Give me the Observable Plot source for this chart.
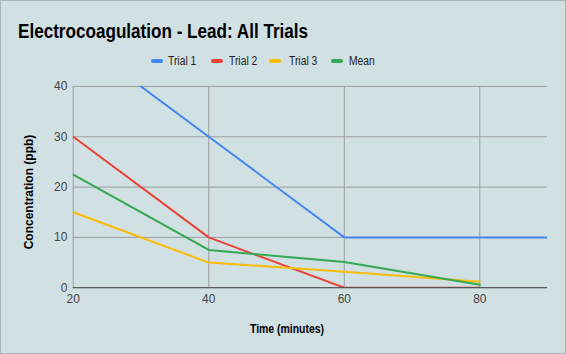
<!DOCTYPE html>
<html>
<head>
<meta charset="utf-8">
<script src="https://cdn.jsdelivr.net/npm/d3@7"></script>
<script src="https://cdn.jsdelivr.net/npm/@observablehq/plot@0.6"></script>
<style>
  html, body { margin: 0; padding: 0; }
  #wrap { position: relative; width: 566px; height: 354px; background: #d0e0e3; box-sizing: border-box; border: 1px solid #a9b6b8; overflow: hidden; font-family: "Liberation Sans", Arial, sans-serif; }
  #title { position: absolute; left: 17px; top: 19px; font-size: 20px; font-weight: bold; color: #000; white-space: nowrap; transform: scaleX(0.855); transform-origin: left center; }
  #legend { position: absolute; top: 52px; left: 0; width: 566px; height: 16px; font-size: 12px; color: #222; }
  .sw { position: absolute; top: 6px; width: 12px; height: 4px; border-radius: 2px; }
  .lt { position: absolute; top: 1px; white-space: nowrap; transform: scaleX(0.86); transform-origin: left center; }
  #chart { position: absolute; left: 0; top: 72px; }
  #ylab { position: absolute; left: 28px; top: 191px; transform: translate(-50%,-50%) rotate(-90deg); font-size: 12px; font-weight: bold; white-space: nowrap; color: #000; }
  #xlab { position: absolute; left: 286px; top: 328px; transform: translate(-50%,-50%) scaleX(0.87); font-size: 12px; font-weight: bold; white-space: nowrap; color: #000; }
</style>
</head>
<body>
<div id="wrap">
  <div id="title">Electrocoagulation - Lead: All Trials</div>
  <div id="legend"></div>
  <div id="chart"></div>
  <div id="ylab">Concentration (ppb)</div>
  <div id="xlab">Time (minutes)</div>
</div>
<script>
const seriesNames = ["Trial 1", "Trial 2", "Trial 3", "Mean"];
const seriesColors = ["#4285f4", "#ea4335", "#fbbc04", "#34a853"];
const times1 = [20, 40, 60, 80, 90];
const trial1 = [50, 30, 10, 10, 10];
const times = [20, 40, 60, 80];
const trial2 = [30, 10, 0, 0];
const trial3 = [15, 5, 3.2, 1.2];
const mean = [22.5, 7.5, 5.1, 0.6];
const xTicks = [20, 40, 60, 80];
const yTicks = [0, 10, 20, 30, 40];

const data = [];
times1.forEach((t, i) => data.push({series: "Trial 1", time: t, value: trial1[i]}));
times.forEach((t, i) => data.push({series: "Trial 2", time: t, value: trial2[i]}));
times.forEach((t, i) => data.push({series: "Trial 3", time: t, value: trial3[i]}));
times.forEach((t, i) => data.push({series: "Mean", time: t, value: mean[i]}));

// legend
const legendSwX = [150, 210, 268, 330];
const legendTxX = [167, 228, 288, 348];
const legend = document.getElementById("legend");
seriesNames.forEach((n, i) => {
  const sw = document.createElement("div");
  sw.className = "sw";
  sw.style.left = legendSwX[i] + "px";
  sw.style.background = seriesColors[i];
  legend.appendChild(sw);
  const tx = document.createElement("div");
  tx.className = "lt";
  tx.style.left = legendTxX[i] + "px";
  tx.textContent = n;
  legend.appendChild(tx);
});

const plot = Plot.plot({
  width: 566,
  height: 282,
  marginLeft: 72,
  marginRight: 18,
  marginTop: 13,
  marginBottom: 67,
  style: { background: "transparent", fontFamily: "Liberation Sans, Arial, sans-serif", fontSize: "12px", color: "#444" },
  x: { domain: [20, 90], label: null },
  y: { domain: [0, 40], label: null },
  color: { domain: seriesNames, range: seriesColors },
  marks: [
    Plot.ruleX(xTicks, { stroke: "#9e9e9e", strokeWidth: 1 }),
    Plot.ruleY(yTicks.filter(d => d > 0), { stroke: "#9e9e9e", strokeWidth: 1 }),
    Plot.axisX({ ticks: xTicks, tickSize: 0, tickPadding: 7, fill: "#444", label: null }),
    Plot.axisY({ ticks: yTicks, tickSize: 0, tickPadding: 6, fill: "#444", label: null }),
    Plot.line(data, { x: "time", y: "value", z: "series", stroke: "series", strokeWidth: 2, clip: true }),
    Plot.ruleY([0], { stroke: "#333", strokeWidth: 1 })
  ]
});
document.getElementById("chart").appendChild(plot);
</script>
</body>
</html>
